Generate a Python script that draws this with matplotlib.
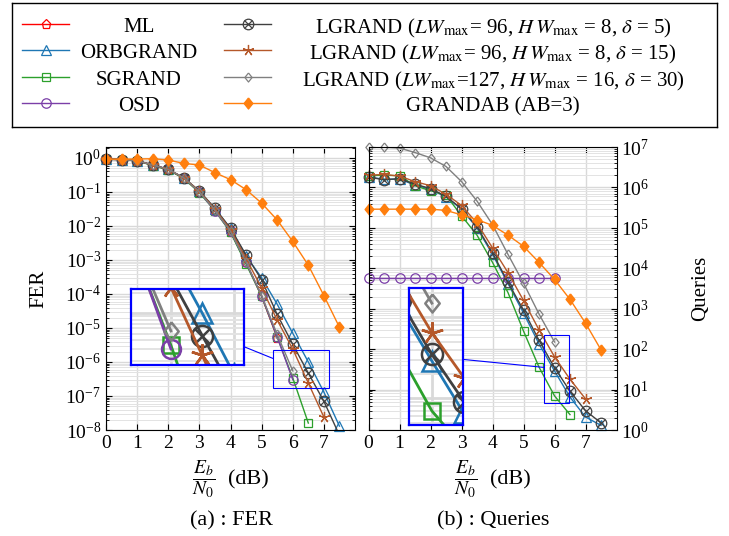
import matplotlib.pyplot as plt
import numpy as np
from matplotlib.patches import Rectangle, ConnectionPatch
from matplotlib.ticker import LogLocator, NullFormatter

plt.rcParams['font.family'] = ['Liberation Serif', 'DejaVu Serif']
plt.rcParams['mathtext.fontset'] = 'stix'
plt.rcParams['font.size'] = 14

snr = np.arange(0, 7.51, 0.5)

# FER (left panel)
fer_ml = [0.92, 0.9, 0.83, 0.62, 0.46, 0.25, 0.1, 0.029, 6.8e-3, 8.5e-4, 8.5e-5, 5.2e-6]
fer_orbgrand = [0.92, 0.9, 0.83, 0.62, 0.46, 0.26, 0.105, 0.032, 8.5e-3, 1.3e-3, 3e-4, 5e-5,
                7e-6, 1e-6, 1.3e-7, 1.3e-8]
fer_sgrand = [0.92, 0.9, 0.82, 0.6, 0.44, 0.25, 0.095, 0.028, 6.5e-3, 7.6e-4, 8.5e-5, 5.4e-6,
              3.4e-7, 1.6e-8]
fer_osd = [0.92, 0.9, 0.83, 0.62, 0.46, 0.26, 0.1, 0.028, 7e-3, 8.5e-4, 8.8e-5, 5.5e-6, 3e-7]
fer_lg5 = [0.92, 0.9, 0.83, 0.62, 0.46, 0.26, 0.107, 0.033, 8.5e-3, 1.4e-3, 2.6e-4, 2.5e-5,
           3.3e-6, 4.7e-7, 7e-8, 7e-9]
fer_lg15 = [0.92, 0.9, 0.83, 0.62, 0.46, 0.26, 0.105, 0.031, 7.8e-3, 1.1e-3, 1.5e-4, 1.7e-5,
            2.4e-6, 2.4e-7, 2.4e-8]
fer_lg30 = [0.92, 0.9, 0.83, 0.62, 0.46, 0.26, 0.1, 0.029, 7e-3, 8.8e-4, 9e-5, 6.5e-6, 5.5e-7]
fer_grandab = [0.92, 0.92, 0.93, 0.95, 0.87, 0.69, 0.62, 0.37, 0.23, 0.117, 0.047, 0.015,
               3.5e-3, 7e-4, 9e-5, 1.05e-5]

# average queries (right panel)
q_orbgrand = [1.8e6, 1.6e6, 1.6e6, 1.15e6, 9e5, 5.8e5, 2.9e5, 1.0e5, 2.2e4, 4.2e3, 7.8e2,
              1.35e2, 29, 6.5, 2.1, 1.3]
q_sgrand = [1.95e6, 2e6, 1.95e6, 1.1e6, 8.3e5, 6.4e5, 2e5, 6.6e4, 1.4e4, 2.5e3, 2.8e2, 36, 7, 2.4]
q_osd = [5.6e3] * 13
q_lg5 = [1.8e6, 1.55e6, 1.65e6, 1.2e6, 9.4e5, 6e5, 3e5, 1.06e5, 2.4e4, 4.5e3, 9.2e2, 1.65e2,
         35, 9.1, 3.0, 1.5]
q_lg15 = [2e6, 2.1e6, 1.9e6, 1.4e6, 1.1e6, 6.8e5, 3.6e5, 1.3e5, 3.2e4, 7.8e3, 1.6e3, 3e2,
          65, 18, 5.9]
q_lg30 = [1e7, 9.9e6, 9.4e6, 7.3e6, 5.4e6, 3.3e6, 1.4e6, 4.6e5, 1.2e5, 2.2e4, 4.3e3, 7.4e2, 1.5e2]
q_grandab = [2.9e5, 2.9e5, 2.9e5, 2.9e5, 2.9e5, 2.7e5, 2.1e5, 1.6e5, 1.15e5, 6.6e4, 3.5e4,
             1.4e4, 5.3e3, 1.7e3, 4.4e2, 96]

labels = {
    'ml': 'ML',
    'orbgrand': 'ORBGRAND',
    'sgrand': 'SGRAND',
    'osd': 'OSD',
    'lg5': r'LGRAND ($LW_{\mathrm{max}}$= 96, $H\,W_{\mathrm{max}}$ = 8, $\delta$ = 5)',
    'lg15': r'LGRAND ($LW_{\mathrm{max}}$= 96, $H\,W_{\mathrm{max}}$ = 8, $\delta$ = 15)',
    'lg30': r'LGRAND ($LW_{\mathrm{max}}$=127, $H\,W_{\mathrm{max}}$ = 16, $\delta$ = 30)',
    'grandab': 'GRANDAB (AB=3)',
}
diamond = [(0, 1), (0.8, 0), (0, -1), (-0.8, 0), (0, 1)]
styles = {
    'ml': dict(color='#ff0000', marker='p', ms=6.8, mfc='none'),
    'orbgrand': dict(color='#1f77b4', marker='^', ms=7, mfc='none'),
    'sgrand': dict(color='#2ca02c', marker='s', ms=6, mfc='none'),
    'osd': dict(color='#7b3fa8', marker='o', ms=6.8, mfc='none'),
    'lg5': dict(color='#404040', marker='o', ms=7.6, mfc='none'),
    'lg15': dict(color='#b5582a', marker=(5, 2, 0), ms=8, mfc='none'),
    'lg30': dict(color='#808080', marker=diamond, ms=6.5, mfc='none'),
    'grandab': dict(color='#ff7f0e', marker=diamond, ms=8, mfc='#ff7f0e'),
}

fer = {'ml': fer_ml, 'orbgrand': fer_orbgrand, 'sgrand': fer_sgrand, 'osd': fer_osd,
       'lg5': fer_lg5, 'lg15': fer_lg15, 'lg30': fer_lg30, 'grandab': fer_grandab}
queries = {'orbgrand': q_orbgrand, 'sgrand': q_sgrand, 'osd': q_osd, 'lg5': q_lg5,
           'lg15': q_lg15, 'lg30': q_lg30, 'grandab': q_grandab}


def draw_markers(ax, x, y, key, k=1.0, clip=True):
    st = styles[key]
    ax.plot(x, y, ls='none', marker=st['marker'], ms=st['ms'] * k, mfc=st['mfc'],
            mec=st['color'], mew=0.9 * k, clip_on=clip)
    if key == 'lg5':
        ax.plot(x, y, ls='none', marker='x', ms=st['ms'] * k / 1.414, mec=st['color'],
                mew=0.9 * k, clip_on=clip)


def draw_series(ax, y, key, k=1.0, inset=False):
    y = np.asarray(y)
    x = snr[:len(y)]
    ax.plot(x, y, color=styles[key]['color'], lw=1.0 * k)
    if inset:
        draw_markers(ax, x, y, key, k, clip=True)
    else:
        lo, hi = ax.get_ylim()
        keep = (y >= lo * 0.999) & (y <= hi * 1.001)
        draw_markers(ax, x[keep], y[keep], key, k, clip=False)


def style_axes(ax, grid_k=1.0):
    ax.set_yscale('log')
    ax.yaxis.set_major_locator(LogLocator(base=10, numticks=20))
    ax.yaxis.set_minor_locator(LogLocator(base=10, subs=np.arange(2, 10), numticks=200))
    ax.yaxis.set_minor_formatter(NullFormatter())
    ax.grid(True, which='major', color='#d9d9d9', lw=1.0 * grid_k)
    ax.grid(True, which='minor', axis='y', color='#e3e3e3', lw=0.7 * grid_k)
    ax.set_axisbelow(True)


W, H = 729, 536
fig = plt.figure(figsize=(W / 100, H / 100), dpi=100)

ax1 = fig.add_axes([106 / W, 106 / H, 249 / W, 283 / H])
ax2 = fig.add_axes([368.5 / W, 106 / H, 248 / W, 283 / H])

for ax in (ax1, ax2):
    style_axes(ax)
    ax.set_xticks(range(8))
    ax.set_xlim(0, 8)
    ax.tick_params(which='both', direction='in', top=True, right=True, left=True)
    ax.tick_params(which='major', length=4)
    ax.tick_params(which='minor', length=2)
ax1.set_ylim(1e-8, 2.1)
ax2.set_ylim(1, 1e7)
ax2.tick_params(which='both', labelleft=False, labelright=True)

order = ['ml', 'orbgrand', 'sgrand', 'osd', 'lg5', 'lg15', 'lg30', 'grandab']
for key in order:
    draw_series(ax1, fer[key], key)
    if key in queries:
        draw_series(ax2, queries[key], key)

ax1.set_ylabel('FER', labelpad=12, fontsize=15)
ax2.yaxis.set_label_position('right')
ax2.set_ylabel('Queries', labelpad=30, fontsize=15)

# x label (fraction + unit) and sub-captions
for cx, cap in ((231, '(a) : FER'), (493, '(b) : Queries')):
    fig.text((cx - 27) / W, 1 - 479 / H, r'$\dfrac{E_b}{N_0}$', ha='center', va='center',
             fontsize=14)
    fig.text((cx - 3) / W, 1 - 480 / H, '(dB)', ha='left', va='center', fontsize=16)
    fig.text(cx / W, 1 - 521 / H, cap, ha='center', va='center', fontsize=16)


# zoomed insets (magnification 2)
def add_inset(ax, rect_fig, xlim, ylim, keys, data, p_ins, p_rect):
    ins = fig.add_axes(rect_fig)
    style_axes(ins, grid_k=2.0)
    ins.set_xticks(range(8))
    ins.set_xlim(*xlim)
    ins.set_ylim(*ylim)
    ins.tick_params(which='both', left=False, bottom=False, labelleft=False, labelbottom=False)
    for s in ins.spines.values():
        s.set_color('#0000ff')
        s.set_linewidth(1.6)
    for key in keys:
        draw_series(ins, data[key], key, k=2.0, inset=True)
    ax.add_patch(Rectangle((xlim[0], ylim[0]), xlim[1] - xlim[0], ylim[1] - ylim[0],
                           fill=False, ec='#0000ff', lw=0.8, zorder=5))
    ry = 10 ** (np.log10(ylim[0]) + p_rect * (np.log10(ylim[1]) - np.log10(ylim[0])))
    con = ConnectionPatch(xyA=(1, p_ins), coordsA=ins.transAxes, xyB=(xlim[0], ry),
                          coordsB=ax.transData, color='#0000ff', lw=0.8)
    fig.add_artist(con)


add_inset(ax1, [130.7 / W, (H - 365) / H, 113.6 / W, 75.7 / H], (5.36, 7.17),
          (10 ** -6.76, 10 ** -5.65), order, fer, 0.24, 0.78)
add_inset(ax2, [409.3 / W, (H - 425) / H, 53.4 / W, 136.7 / H], (5.65, 6.48),
          (10 ** 0.67, 10 ** 2.36), [k for k in order if k in queries], queries, 0.48, 0.52)

# legend box drawn in its own axes (pixel units)
axl = fig.add_axes([12 / W, (H - 127) / H, 705 / W, 124 / H])
axl.set_xlim(0, 705)
axl.set_ylim(124, 0)
axl.set_xticks([])
axl.set_yticks([])
for s in axl.spines.values():
    s.set_linewidth(1.0)
rows_y = [21, 47, 74, 100]
cols = [(10, 57, 127), (212, 259, 481)]
for i, key in enumerate(order):
    x0, x1, tx = cols[i // 4]
    y = rows_y[i % 4]
    axl.plot([x0, x1], [y, y], color=styles[key]['color'], lw=1.0)
    draw_markers(axl, [(x0 + x1) / 2], [y], key)
    axl.text(tx, y + 1, labels[key], ha='center', va='center_baseline', fontsize=15)

fig.savefig('out.png', dpi=100)
